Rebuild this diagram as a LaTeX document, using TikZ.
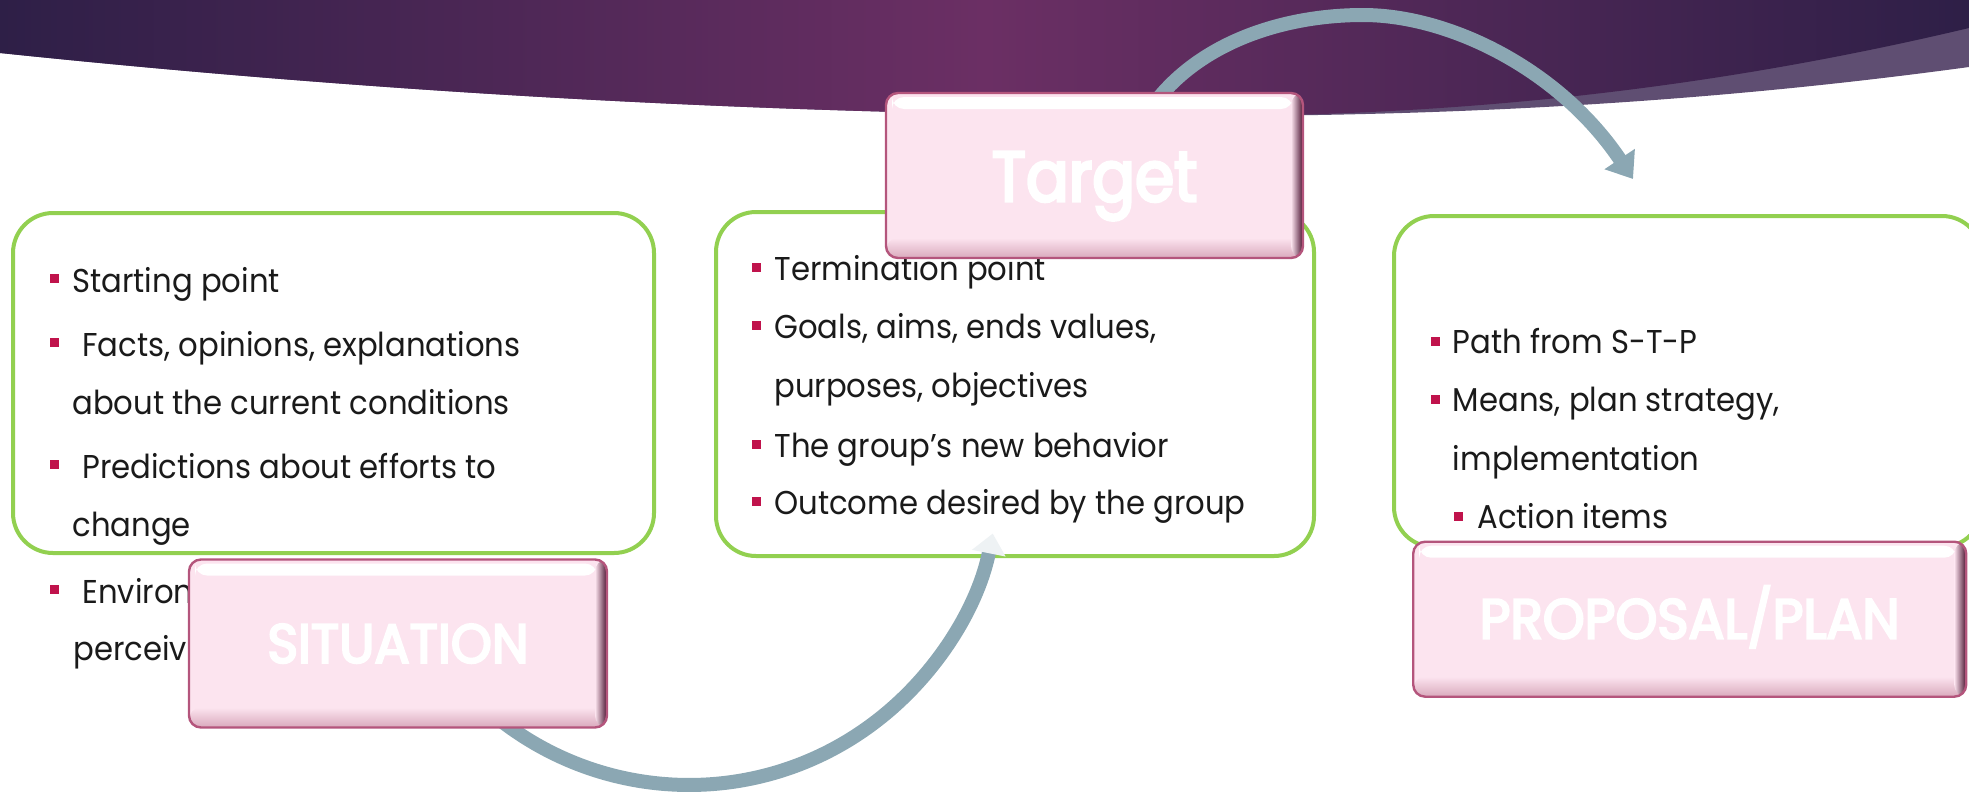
\documentclass[tikz,border=0pt]{standalone}
\usepackage{fontspec}
\usepackage{tikz}
\usetikzlibrary{arrows.meta,positioning}
\newfontfamily\bodyfont[FakeStretch=0.93]{Poppins}
\newfontfamily\titlefont[FakeStretch=0.95,FakeBold=4]{Poppins}
\newfontfamily\targetfont[FakeStretch=0.89,FakeBold=4]{Poppins}
\newcommand\stpbody{\bodyfont\fontsize{16.5}{20}\selectfont}
\definecolor{pinkfill}{HTML}{FCE4EF}
\definecolor{pinkrim}{HTML}{B4557C}
\definecolor{pinklow}{HTML}{D9A9BC}
\definecolor{pinkdark}{HTML}{4A1230}
\definecolor{boxgreen}{HTML}{92D050}
\definecolor{bulletred}{HTML}{C0134C}
\definecolor{arrowblue}{HTML}{8BA7B3}
\definecolor{headpale}{HTML}{EEF2F4}
\definecolor{bannerdark}{HTML}{2E1F47}
\definecolor{bannermid}{HTML}{6B2F64}
\definecolor{bandlite}{HTML}{5F4E72}
\definecolor{inktext}{HTML}{1A1A1A}
\tikzset{
  greenbox/.style={draw=boxgreen, line width=2pt, fill=white, rounded corners=20pt, inner sep=0pt},
  pinkbox/.style={draw=pinkrim, line width=1.2pt, fill=pinkfill, rounded corners=6pt, text=white,
    inner sep=0pt, text depth=0pt,
    path picture={
      \fill[white] ([xshift=3pt,yshift=-2pt]path picture bounding box.north west) rectangle ([xshift=-5pt,yshift=-8pt]path picture bounding box.north east);
      \shade[top color=pinkfill, bottom color=pinklow] ([yshift=10pt]path picture bounding box.south west) rectangle (path picture bounding box.south east);
      \shade[left color=pinkfill, right color=pinkdark] ([xshift=-6pt]path picture bounding box.north east) rectangle (path picture bounding box.south east);
    }},
  bulletsq/.style={fill=bulletred, minimum size=4.5pt, inner sep=0pt},
  itemtext/.style={anchor=base west, inner sep=0pt, font=\stpbody, text=inktext},
  cyclearrow/.style={draw=arrowblue, line width=7pt}
}
\begin{document}
\begin{tikzpicture}[x=0.5pt,y=-0.5pt]
\useasboundingbox (0,0) rectangle (1969,793);
\clip (0,0) rectangle (1969,793);
\fill[bandlite] (0,0) -- (0,53) .. controls (450,100) and (850,116) .. (1200,116) .. controls (1550,116) and (1800,90) .. (1969,67) -- (1969,0) -- cycle;
\shade[left color=bannerdark, right color=bannerdark, middle color=bannermid] (0,0) -- (0,53) .. controls (450,100) and (850,116) .. (1200,116) .. controls (1500,116) and (1750,80) .. (1969,28) -- (1969,0) -- cycle;

\node[greenbox, minimum width=320.5pt, minimum height=170pt] (sitbox) at (333.5,383) {};
\node[greenbox, minimum width=299pt, minimum height=172pt] (tgtbox) at (1015,384) {};
\node[greenbox, minimum width=294pt, minimum height=165.5pt] (propbox) at (1688,381.5) {};

\node[bulletsq] (sb1) at (54.5,278.5) {};
\node[itemtext] (st1) at (72,292) {Starting point};
\node[bulletsq] (sb2) at (54.5,342.5) {};
\node[itemtext] (st2) at (82,356) {Facts, opinions, explanations};
\node[itemtext] (st3) at (72,414) {about the current conditions};
\node[bulletsq] (sb3) at (54.5,464.5) {};
\node[itemtext] (st4) at (82,478) {Predictions about efforts to};
\node[itemtext] (st5) at (72,536) {change};
\node[bulletsq] (sb4) at (54.5,589.5) {};
\node[itemtext] (st6) at (82,603) {Environ};
\node[itemtext] (st7) at (73,660) {perceiv};

\node[bulletsq] (tb1) at (756.5,267.5) {};
\node[itemtext] (tt1) at (774,280) {Termination point};
\node[bulletsq] (tb2) at (756.5,325.5) {};
\node[itemtext] (tt2) at (774,338) {Goals, aims, ends values,};
\node[itemtext] (tt3) at (774,397) {purposes, objectives};
\node[bulletsq] (tb3) at (756.5,444.5) {};
\node[itemtext] (tt4) at (774,457) {The group’s new behavior};
\node[bulletsq] (tb4) at (756.5,501.5) {};
\node[itemtext] (tt5) at (774,514) {Outcome desired by the group};

\node[bulletsq] (pb1) at (1435.5,341.5) {};
\node[itemtext] (pt1) at (1452.5,353.5) {Path from S-T-P};
\node[bulletsq] (pb2) at (1435.5,399.5) {};
\node[itemtext] (pt2) at (1452.5,411.5) {Means, plan strategy,};
\node[itemtext] (pt3) at (1452.5,470) {implementation};
\node[bulletsq] (pb3) at (1458.5,516.5) {};
\node[itemtext] (pt4) at (1477,528.5) {Action items};

\coordinate (sitTail) at (451.5,672.8);
\draw[cyclearrow,-{Triangle[width=16.5pt,length=10pt,color=headpale]}] (sitTail) arc[start angle=140,end angle=11.5,x radius=310,y radius=314];
\coordinate (tgtTail) at (1140,125);
\coordinate (propHead) at (1633,179);
\draw[cyclearrow,-{Triangle[width=17.5pt,length=12pt]}] (tgtTail) .. controls (1185,45) and (1280,15) .. (1363,15) .. controls (1450,15) and (1560,70) .. (propHead);

\node[pinkbox, minimum width=208.5pt, minimum height=82.5pt, text height=25.8pt, font=\targetfont\fontsize{35.5}{40}\selectfont] (target) at (1094.5,175.5) {Target};
\node[pinkbox, minimum width=209pt, minimum height=84pt, text height=19.3pt, font=\titlefont\fontsize{27.5}{32}\selectfont] (situation) at (398,643.5) {SITUATION};
\node[pinkbox, minimum width=276.5pt, minimum height=77.5pt, text height=19.2pt, font=\titlefont\fontsize{28}{34}\selectfont] (proposal) at (1689.7,619.2) {PROPOSAL/PLAN};
\end{tikzpicture}
\end{document}
